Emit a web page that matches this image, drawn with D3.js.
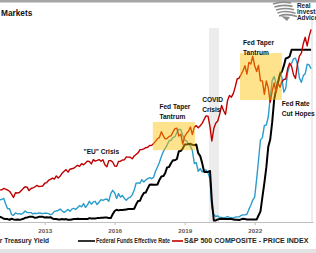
<!DOCTYPE html>
<html>
<head>
<meta charset="utf-8">
<script src="https://cdn.jsdelivr.net/npm/d3@7"></script>
<style>
  body { margin: 0; background: #fff; }
  svg { display: block; font-family: "Liberation Sans", Arial, sans-serif; }
  .note { font-size: 6.6px; font-weight: bold; fill: #111; }
  .legend { font-weight: bold; fill: #262626; }
  .axis text { font-size: 6.2px; font-weight: bold; fill: #595959; }
  .axis path, .axis line { stroke: #bfbfbf; }
</style>
</head>
<body>
<div id="chart"></div>
<script>
var width = 316,
    height = 253;

// monthly series, Jan 2011 onwards
var startMonth = new Date(2011, 0, 1);

var spx = [
  1286, 1327, 1326, 1364, 1345, 1321, 1292, 1219, 1131, 1253, 1247, 1258,
  1312, 1366, 1408, 1398, 1310, 1362, 1379, 1407, 1441, 1412, 1416, 1426,
  1498, 1515, 1569, 1598, 1631, 1606, 1686, 1633, 1682, 1757, 1806, 1848,
  1783, 1859, 1872, 1884, 1924, 1960, 1931, 2003, 1972, 2018, 2068, 2059,
  1995, 2105, 2068, 2086, 2107, 2063, 2104, 1972, 1920, 2079, 2080, 2044,
  1940, 1932, 2060, 2065, 2097, 2099, 2174, 2171, 2168, 2126, 2199, 2239,
  2279, 2364, 2363, 2384, 2412, 2423, 2470, 2472, 2519, 2575, 2648, 2674,
  2824, 2714, 2641, 2648, 2705, 2718, 2816, 2902, 2914, 2712, 2760, 2507,
  2704, 2784, 2834, 2946, 2752, 2942, 2980, 2926, 2977, 3038, 3141, 3231,
  3226, 2954, 2585, 2912, 3044, 3100, 3271, 3500, 3363, 3270, 3622, 3756,
  3714, 3811, 3973, 4181, 4204, 4298, 4395, 4523, 4308, 4605, 4567, 4766,
  4516, 4374, 4530, 4132, 4132, 3785, 4130, 3955, 3586, 3872, 4080, 3840,
  4077, 3970, 4109, 4169, 4180, 4450, 4589, 4508, 4288, 4194, 4568, 4770,
  4846, 5096, 5254, 5036, 5278, 5460
];

var fedFunds = [
  0.17, 0.16, 0.14, 0.10, 0.09, 0.09, 0.07, 0.10, 0.08, 0.07, 0.08, 0.07,
  0.08, 0.10, 0.13, 0.14, 0.16, 0.16, 0.16, 0.13, 0.14, 0.16, 0.16, 0.16,
  0.14, 0.15, 0.14, 0.15, 0.11, 0.09, 0.09, 0.08, 0.08, 0.09, 0.08, 0.09,
  0.07, 0.07, 0.08, 0.09, 0.09, 0.10, 0.09, 0.09, 0.09, 0.09, 0.09, 0.12,
  0.11, 0.11, 0.11, 0.12, 0.12, 0.13, 0.13, 0.14, 0.14, 0.12, 0.12, 0.24,
  0.34, 0.38, 0.36, 0.37, 0.37, 0.38, 0.39, 0.40, 0.40, 0.40, 0.41, 0.54,
  0.65, 0.66, 0.79, 0.90, 0.91, 1.04, 1.15, 1.16, 1.15, 1.15, 1.16, 1.30,
  1.41, 1.42, 1.51, 1.69, 1.70, 1.82, 1.91, 1.91, 1.95, 2.19, 2.20, 2.27,
  2.40, 2.40, 2.41, 2.42, 2.39, 2.38, 2.40, 2.13, 2.04, 1.83, 1.55, 1.55,
  1.55, 1.58, 0.65, 0.05, 0.05, 0.08, 0.09, 0.10, 0.09, 0.09, 0.09, 0.09,
  0.09, 0.08, 0.07, 0.07, 0.06, 0.08, 0.10, 0.09, 0.08, 0.08, 0.08, 0.08,
  0.08, 0.08, 0.20, 0.33, 0.77, 1.21, 1.68, 2.33, 2.56, 3.08, 3.78, 4.10,
  4.33, 4.57, 4.65, 4.83, 5.06, 5.08, 5.12, 5.33, 5.33, 5.33, 5.33, 5.33,
  5.33, 5.33, 5.33, 5.33, 5.33, 5.33
];

var twoYear = [
  0.58, 0.69, 0.70, 0.73, 0.56, 0.41, 0.41, 0.23, 0.21, 0.28, 0.25, 0.26,
  0.24, 0.28, 0.34, 0.29, 0.29, 0.29, 0.25, 0.27, 0.26, 0.28, 0.27, 0.26,
  0.27, 0.27, 0.26, 0.23, 0.25, 0.33, 0.34, 0.36, 0.40, 0.34, 0.30, 0.34,
  0.39, 0.33, 0.40, 0.42, 0.39, 0.45, 0.51, 0.47, 0.57, 0.45, 0.53, 0.64,
  0.55, 0.62, 0.64, 0.54, 0.61, 0.69, 0.67, 0.70, 0.71, 0.64, 0.88, 0.98,
  0.90, 0.73, 0.88, 0.77, 0.82, 0.73, 0.67, 0.74, 0.77, 0.84, 0.98, 1.20,
  1.21, 1.20, 1.31, 1.24, 1.30, 1.34, 1.37, 1.34, 1.38, 1.57, 1.70, 1.84,
  2.03, 2.18, 2.28, 2.38, 2.51, 2.53, 2.61, 2.64, 2.77, 2.86, 2.86, 2.68,
  2.54, 2.50, 2.41, 2.34, 2.21, 1.81, 1.84, 1.57, 1.65, 1.55, 1.61, 1.61,
  1.52, 1.33, 0.45, 0.23, 0.17, 0.19, 0.14, 0.14, 0.13, 0.14, 0.17, 0.14,
  0.13, 0.12, 0.15, 0.16, 0.16, 0.20, 0.22, 0.22, 0.24, 0.39, 0.52, 0.68,
  0.78, 1.35, 1.91, 2.54, 2.61, 2.99, 3.00, 3.25, 3.86, 4.38, 4.50, 4.29,
  4.26, 4.64, 4.48, 4.02, 4.13, 4.64, 4.83, 4.91, 5.05, 5.07, 4.88, 4.46,
  4.32, 4.53, 4.59, 4.88, 4.86, 4.74
];

var tickYears = [2013, 2016, 2019, 2022];

// shaded periods [from, to] in dates, [low, high] in S&P terms
var taperBoxes = [
  { from: new Date(2017, 7, 20), to: new Date(2019, 5, 10), lo: 2350, hi: 3075 },
  { from: new Date(2021, 4, 15), to: new Date(2023, 2, 1), lo: 3640, hi: 4850 }
];
var covidBand = [new Date(2020, 0, 15), new Date(2020, 5, 20)];

var notes = [
  { date: new Date(2014, 8, 1), spx: 2250, lines: ['"EU" Crisis'] },
  { date: new Date(2017, 11, 1), spx: 3410, lines: ['Fed Taper', 'Tantrum'] },
  { date: new Date(2019, 9, 1), spx: 3590, lines: ['COVID', 'Crisis'] },
  { date: new Date(2021, 6, 1), spx: 5060, lines: ['Fed Taper', 'Tantrum'] },
  { date: new Date(2023, 2, 1), spx: 3490, lines: ['Fed Rate', 'Cut Hopes'] }
];

var series = [
  { name: '2-Year Treasury Yield', values: twoYear, axis: 'rate', color: '#2b9ccc', w: 1.4 },
  { name: 'Federal Funds Effective Rate', values: fedFunds, axis: 'rate', color: '#000000', w: 2 },
  { name: 'S&P 500 COMPOSITE - PRICE INDEX', values: spx, axis: 'spx', color: '#c00000', w: 1.4 }
];

var svg = d3.select('#chart')
    .append('svg')
    .attr('width', width)
    .attr('height', height);

var x = d3.scaleTime()
    .domain([new Date(2011, 0, 1), new Date(2024, 6, 1)])
    .range([-2, 313]);

var yRate = d3.scaleLinear().domain([0, 6.25]).range([222, 20]);
var ySpx = d3.scaleLinear().domain([500, 5700]).range([222, 20]);

var monthDate = i => d3.timeMonth.offset(startMonth, i);

// page furniture: top rule and bottom strip
svg.append('rect').attr('x', 0).attr('y', 0).attr('width', width).attr('height', 2.5).attr('fill', '#a6a6a6');
svg.append('rect').attr('x', 0).attr('y', 249).attr('width', width).attr('height', 4).attr('fill', '#e3e3e3');

svg.append('text')
    .attr('x', 1)
    .attr('y', 16)
    .style('font-size', '8.3px')
    .style('font-weight', 'bold')
    .attr('fill', '#111')
    .text('Markets');

// logo
var logo = svg.append('g').attr('transform', 'translate(271,3)');
[0, 3, 6, 9, 12].forEach((d, i) => {
    logo.append('path')
        .attr('d', 'M' + (2 + i * 1.5) + ',' + (d + 1) + ' q8,-3 18,' + (-1 + i * 0.4))
        .attr('fill', 'none')
        .attr('stroke', '#8c8c8c')
        .attr('stroke-width', 1.6);
});
logo.append('path').attr('d', 'M10,13 l6,5 l3,-4 z').attr('fill', '#8c8c8c');
svg.append('g').selectAll('text')
    .data(['Real', 'Investment', 'Advice'])
    .enter()
    .append('text')
    .attr('x', 297)
    .attr('y', (d, i) => 8 + i * 6)
    .style('font-size', '6.4px')
    .style('font-weight', 'bold')
    .attr('fill', '#1f1f1f')
    .text(d => d);

// covid band
svg.append('rect')
    .attr('x', x(covidBand[0]))
    .attr('y', 28)
    .attr('width', x(covidBand[1]) - x(covidBand[0]))
    .attr('height', 222 - 28)
    .attr('fill', '#ececec');

// right axis rule
svg.append('line')
    .attr('x1', 312).attr('x2', 312)
    .attr('y1', 20).attr('y2', 222)
    .attr('stroke', '#d9d9d9');

// x axis
var xAxis = svg.append('g')
    .attr('class', 'axis')
    .attr('transform', 'translate(0,222)')
    .call(d3.axisBottom(x)
        .tickValues(tickYears.map(d => new Date(d, 0, 1)))
        .tickFormat(d3.timeFormat('%Y'))
        .tickSize(3)
        .tickSizeOuter(0));
xAxis.selectAll('text').attr('dy', '0.8em');

// lines
var g = svg.append('g');
series.forEach(s => {
    var yScale = s.axis === 'spx' ? ySpx : yRate;
    var line = d3.line()
        .x((d, i) => x(monthDate(i)))
        .y(d => yScale(d));
    g.append('path')
        .datum(s.values)
        .attr('d', line)
        .attr('fill', 'none')
        .attr('stroke', s.color)
        .attr('stroke-width', s.w)
        .attr('stroke-linejoin', 'round');
});

// highlight boxes over the lines
svg.selectAll('.box')
    .data(taperBoxes)
    .enter()
    .append('rect')
    .attr('class', 'box')
    .attr('x', d => x(d.from))
    .attr('y', d => ySpx(d.hi))
    .attr('width', d => x(d.to) - x(d.from))
    .attr('height', d => ySpx(d.lo) - ySpx(d.hi))
    .attr('fill', '#ffc000')
    .attr('fill-opacity', 0.45);

// annotations
var note = svg.selectAll('.note')
    .data(notes)
    .enter()
    .append('text')
    .attr('class', 'note')
    .attr('x', d => x(d.date))
    .attr('y', d => ySpx(d.spx));
note.selectAll('tspan')
    .data(d => d.lines.map(t => ({ t: t, x: x(d.date) })))
    .enter()
    .append('tspan')
    .attr('x', d => d.x)
    .attr('dy', (d, i) => i ? 10 : 0)
    .text(d => d.t);

// legend
var legendY = 241;
var legendItems = [
    { s: series[0], x1: -20, x2: -1, tx: 49, size: 6.6 },
    { s: series[1], x1: 78, x2: 95, tx: 96, size: 6.6, len: 74 },
    { s: series[2], x1: 172, x2: 183, tx: 184, size: 7.1 }
];
var lg = svg.append('g');
legendItems.forEach(d => {
    lg.append('line')
        .attr('x1', d.x1).attr('x2', d.x2)
        .attr('y1', legendY).attr('y2', legendY)
        .attr('stroke', d.s.color)
        .attr('stroke-width', 1.6);
    var t = lg.append('text')
        .attr('class', 'legend')
        .attr('x', d.tx)
        .attr('y', legendY)
        .attr('dy', '0.35em')
        .style('font-size', d.size + 'px')
        .text(d.s.name);
    if (d.len) t.attr('textLength', d.len).attr('lengthAdjust', 'spacingAndGlyphs');
});
// first legend entry is cut by the left edge in the source
lg.select('text').attr('text-anchor', 'end');
</script>
</body>
</html>
